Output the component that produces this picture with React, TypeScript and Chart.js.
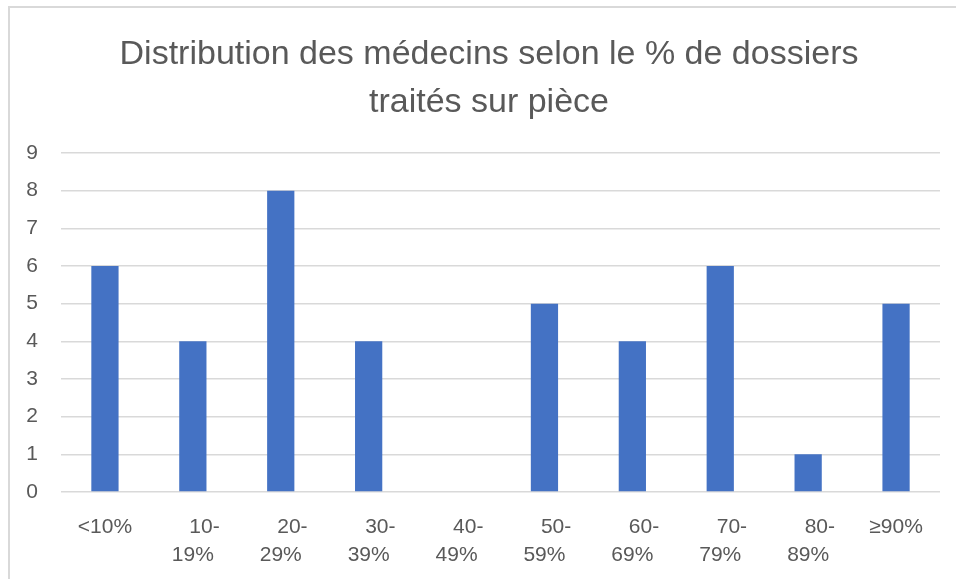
import React, { useEffect, useRef } from "react";
import { Chart, registerables } from "chart.js";

Chart.register(...registerables);

const TITLE_LINES = ["Distribution des médecins selon le % de dossiers", "traités sur pièce"];
const CATEGORIES: (string | string[])[] = [
  "<10%",
  ["    10-", "19%"],
  ["    20-", "29%"],
  ["    30-", "39%"],
  ["    40-", "49%"],
  ["    50-", "59%"],
  ["    60-", "69%"],
  ["    70-", "79%"],
  ["    80-", "89%"],
  "≥90%",
];
const VALUES = [6, 4, 8, 4, 0, 5, 4, 6, 1, 5];
const Y_MIN = 0;
const Y_MAX = 9;

const FONT = "'Liberation Sans', Arial, sans-serif";
const TEXT = "#595959";
const GRID = "#d9d9d9";

const borderPlugin = {
  id: "outerBorder",
  afterLayout(chart: any) {
    if (chart.titleBlock) {
      chart.titleBlock.left = 38;
    }
  },
  beforeDraw(chart: any) {
    const ctx = chart.ctx;
    ctx.save();
    ctx.fillStyle = "#ffffff";
    ctx.fillRect(0, 0, chart.width, chart.height);
    ctx.strokeStyle = GRID;
    ctx.lineWidth = 2;
    ctx.strokeRect(9, 7, chart.width + 20, chart.height + 20);
    ctx.restore();
  },
};

export default function App() {
  const ref = useRef<HTMLCanvasElement | null>(null);
  useEffect(() => {
    if (!ref.current) return;
    const chart = new Chart(ref.current, {
      type: "bar",
      data: {
        labels: CATEGORIES,
        datasets: [
          {
            data: VALUES,
            backgroundColor: "#4472C4",
            borderWidth: 0,
            barPercentage: 0.31,
            categoryPercentage: 1,
          },
        ],
      },
      plugins: [borderPlugin],
      options: {
        responsive: false,
        animation: false,
        layout: { padding: { left: 0, right: 16, top: 0, bottom: 0 } },
        plugins: {
          legend: { display: false },
          tooltip: { enabled: false },
          title: {
            display: true,
            text: TITLE_LINES,
            color: TEXT,
            font: { family: FONT, size: 34, weight: "normal", lineHeight: 1.412 },
            padding: { top: 31, bottom: 26 },
          },
        },
        scales: {
          x: {
            grid: { display: false, drawTicks: false },
            border: { display: false },
            ticks: {
              color: TEXT,
              font: { family: FONT, size: 21, lineHeight: 1.333 },
              padding: 21,
              maxRotation: 0,
              autoSkip: false,
            },
            afterFit(scale: any) {
              scale.height = 87;
            },
          },
          y: {
            min: Y_MIN,
            max: Y_MAX,
            grid: { color: GRID, lineWidth: 1.5, drawTicks: false },
            border: { display: false },
            ticks: {
              stepSize: 1,
              color: TEXT,
              font: { family: FONT, size: 21 },
              padding: 23,
            },
            afterFit(scale: any) {
              scale.width = 61;
            },
          },
        },
      },
    });
    return () => chart.destroy();
  }, []);
  return (
    <div style={{ position: "fixed", left: 0, top: 0, width: 956, height: 579, background: "#fff" }}>
      <canvas ref={ref} width={956} height={579} />
    </div>
  );
}
